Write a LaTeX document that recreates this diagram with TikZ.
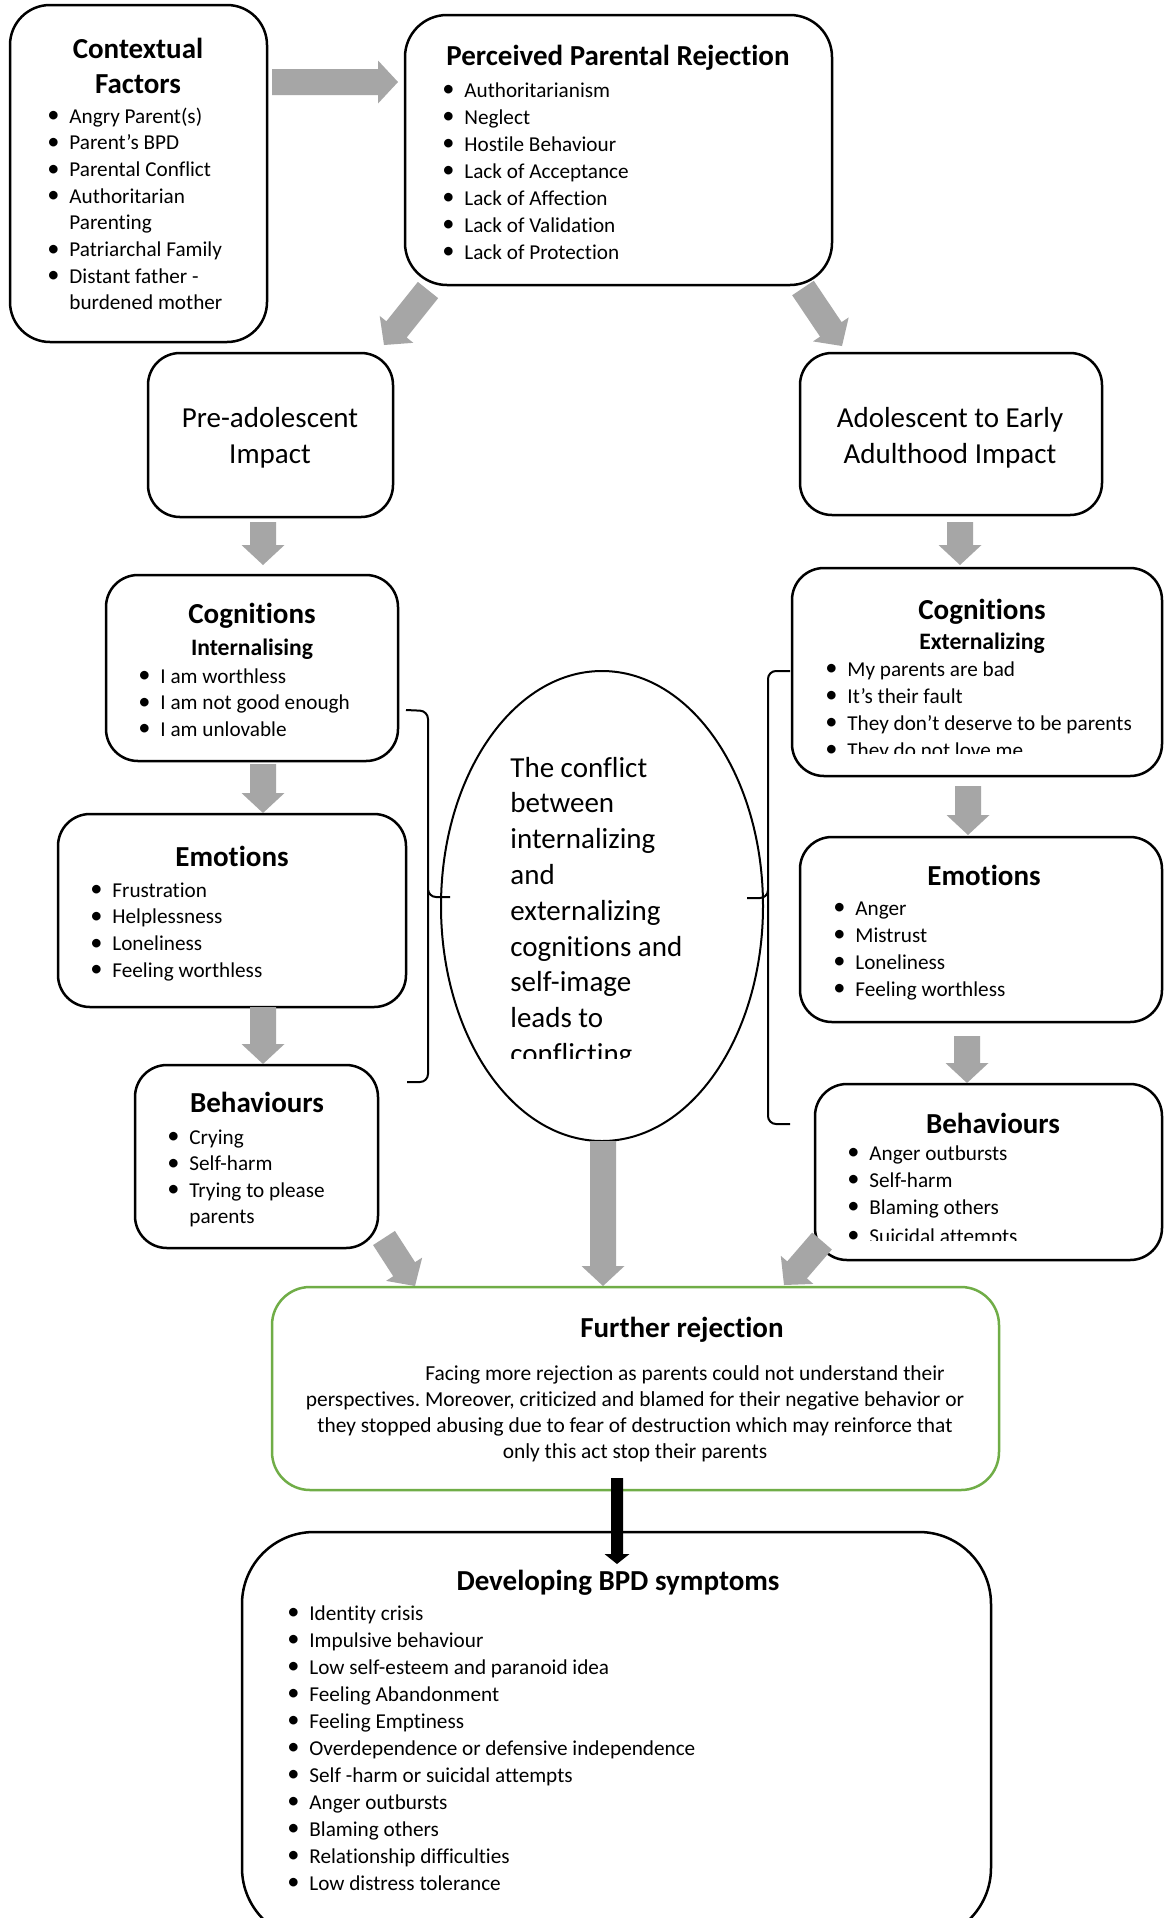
\documentclass[tikz,border=0pt]{standalone}
\usepackage{fontspec}
\setmainfont{Carlito}[Ligatures={NoCommon,NoRare,NoContextual}]
\usetikzlibrary{calc,shapes.geometric}
\definecolor{agray}{RGB}{166,166,166}
\definecolor{fgreen}{RGB}{112,173,71}
\newcommand\bul{\makebox[9.5pt][l]{\hspace{-1.5pt}\raisebox{0.01em}{\scalebox{1.15}{•}}}}
\newcommand\nob{\hspace*{9.5pt}}
% rounded box: [style]{name}{x1}{y1}{x2}{y2}{radius}
\newcommand\rbox[7][box]{%
  \node[#1, rounded corners=#7, minimum width={(#5-#3)*0.5pt}, minimum height={(#6-#4)*0.5pt}] (#2) at ({(#3+#5)/2},{(#4+#6)/2}) {};}
% block arrow: [colour]{start}{end}{shaft half}{head half}{head length}
\newcommand\barrow[6][agray]{%
  \coordinate (bh) at ($(#3)!#6!(#2)$);
  \fill[#1] ($(#2)!#4!90:(#3)$) -- ($(bh)!#4!90:(#3)$) -- ($(bh)!#5!90:(#3)$) -- (#3) -- ($(bh)!#5!-90:(#3)$) -- ($(bh)!#4!-90:(#3)$) -- ($(#2)!#4!-90:(#3)$) -- cycle;}
% list of lines: {prefix}{x}{y0}{dy}{items}
\newcommand\mylist[5]{%
  \foreach \itxt [count=\i] in {#5} {\node[itm] (#1\i) at ({#2},{#3+(\i-1)*#4}) {\itxt};}}
\frenchspacing
\begin{document}
\begin{tikzpicture}[x=0.5pt,y=-0.5pt,
  box/.style={draw, line width=1.25pt, inner sep=0pt},
  gbox/.style={draw=fgreen, line width=1.25pt, inner sep=0pt},
  ttl/.style={font=\bfseries\fontsize{14.5}{17}\selectfont, anchor=base, inner sep=0pt},
  sub/.style={font=\bfseries\fontsize{11.8}{14}\selectfont, anchor=base, inner sep=0pt},
  itm/.style={font=\fontsize{10.6}{13}\selectfont, anchor=base west, inner sep=0pt},
  big/.style={font=\fontsize{14.5}{17}\selectfont, anchor=base, inner sep=0pt},
  bigl/.style={font=\fontsize{14.5}{17}\selectfont, anchor=base west, inner sep=0pt},
  body/.style={font=\fontsize{10.7}{13}\selectfont, anchor=base, inner sep=0pt},
  brc/.style={draw, line width=1pt, rounded corners=4pt}]
\useasboundingbox (0,0) rectangle (1164,1918);
\fill[white] (0,0) rectangle (1164,1918);
\clip (0,0) rectangle (1164,1918);

% boxes
\rbox{ctx}{10}{5}{267}{342}{20pt}
\rbox{ppr}{405}{15}{832}{285}{21pt}
\rbox{pre}{148}{353}{393}{517}{16pt}
\rbox{ado}{800}{353}{1102}{515}{16pt}
\rbox{cogL}{106}{575}{398}{761}{16pt}
\rbox{emoL}{58}{814}{406}{1007}{16pt}
\rbox{behL}{135}{1065}{378}{1248}{16pt}
\rbox{cogR}{792}{568}{1162}{776}{16pt}
\rbox{emoR}{800}{837}{1162}{1022}{16pt}
\rbox{behR}{815}{1084}{1162}{1260}{16pt}
\rbox[gbox]{fur}{272}{1287}{999}{1490}{19pt}
\rbox{dev}{242}{1532}{991}{1940}{36pt}
\node[draw, ellipse, line width=1pt, minimum width=161pt, minimum height=235pt, inner sep=0pt] (conf) at (602,906) {};

% braces
\draw[brc] (406,710) -- (428,711) -- (428,897) -- (450,897);
\draw[brc] (428,890) -- (428,1082) -- (407,1082);
\draw[brc] (790,671) -- (768,671) -- (768,898) -- (747,898);
\draw[brc] (768,890) -- (768,1124) -- (790,1124);

% texts
\node[ttl] (ctxT1) at (138,58) {Contextual};
\node[ttl] (ctxT2) at (138,93) {Factors};
\mylist{ctx}{50}{123}{26.7}{{\bul Angry Parent(s)},{\bul Parent’s BPD},{\bul Parental Conflict},{\bul Authoritarian},{\nob Parenting},{\bul Patriarchal Family},{\bul Distant father -},{\nob burdened mother}}

\node[ttl] (pprT) at (618,65) {Perceived Parental Rejection};
\mylist{ppr}{445}{97}{27}{{\bul Authoritarianism},{\bul Neglect},{\bul Hostile Behaviour},{\bul Lack of Acceptance},{\bul Lack of Affection},{\bul Lack of Validation},{\bul Lack of Protection}}

\node[big] (pre1) at (270,427) {Pre-adolescent};
\node[big] (pre2) at (270,463) {Impact};
\node[big] (ado1) at (950,427) {Adolescent to Early};
\node[big] (ado2) at (950,463) {Adulthood Impact};

\node[ttl] (cogLT) at (252,623) {Cognitions};
\node[sub] (cogLS) at (252,655) {Internalising};
\mylist{cogL}{141}{683}{26.5}{{\bul I am worthless},{\bul I am not good enough},{\bul I am unlovable}}

\node[ttl] (emoLT) at (232,866) {Emotions};
\mylist{emoL}{93}{897}{26.7}{{\bul Frustration},{\bul Helplessness},{\bul Loneliness},{\bul Feeling worthless}}

\node[ttl] (behLT) at (257,1112) {Behaviours};
\mylist{behL}{170}{1144}{26.5}{{\bul Crying},{\bul Self-harm},{\bul Trying to please},{\nob parents}}

\node[ttl] (cogRT) at (982,619) {Cognitions};
\node[sub] (cogRS) at (982,649) {Externalizing};
\mylist{cogR}{828}{676}{27}{{\bul My parents are bad},{\bul It’s their fault},{\bul They don’t deserve to be parents}}
\begin{scope}
\clip (800,700) rectangle (1160,753);
\node[itm] (cogR4) at (828,757) {\bul They do not love me};
\end{scope}

\node[ttl] (emoRT) at (984,885) {Emotions};
\mylist{emoR}{836}{915}{27}{{\bul Anger},{\bul Mistrust},{\bul Loneliness},{\bul Feeling worthless}}

\node[ttl] (behRT) at (993,1133) {Behaviours};
\mylist{behR}{850}{1160}{27}{{\bul Anger outbursts},{\bul Self-harm},{\bul Blaming others}}
\begin{scope}
\clip (820,1200) rectangle (1160,1240);
\node[itm] (behR4) at (850,1243) {\bul Suicidal attempts};
\end{scope}

\foreach \itxt [count=\i] in {The conflict,between,internalizing,and,externalizing,cognitions and,self-image,leads to}
  {\node[bigl] (cf\i) at ({510},{777+(\i-1)*35.8}) {\itxt};}
\begin{scope}
\clip (500,1030) rectangle (720,1058);
\node[bigl] (cf9) at (510,1063.4) {conflicting};
\end{scope}

\node[ttl] (furT) at (682,1337) {Further rejection};
\node[body, anchor=base west] (fur1) at (425,1380) {Facing more rejection as parents could not understand their};
\node[body] (fur2) at (635,1406) {perspectives. Moreover, criticized and blamed for their negative behavior or};
\node[body] (fur3) at (635,1432) {they stopped abusing due to fear of destruction which may reinforce that};
\node[body] (fur4) at (635,1458) {only this act stop their parents};

\node[ttl] (devT) at (618,1590) {Developing BPD symptoms};
\mylist{dev}{290}{1620}{27}{{\bul Identity crisis},{\bul Impulsive behaviour},{\bul Low self-esteem and paranoid idea},{\bul Feeling Abandonment},{\bul Feeling Emptiness},{\bul Overdependence or defensive independence},{\bul Self -harm or suicidal attempts},{\bul Anger outbursts},{\bul Blaming others},{\bul Relationship difficulties},{\bul Low distress tolerance}}

% arrows
\coordinate (a1s) at (272,82);   \coordinate (a1e) at (398,82);
\coordinate (a2s) at (428,290);  \coordinate (a2e) at (384,345);
\coordinate (a3s) at (803,288);  \coordinate (a3e) at (842,346);
\coordinate (a4s) at (263,522);  \coordinate (a4e) at (263,565);
\coordinate (a5s) at (263,764);  \coordinate (a5e) at (263,813);
\coordinate (a6s) at (263,1007); \coordinate (a6e) at (263,1064);
\coordinate (a7s) at (960,522);  \coordinate (a7e) at (960,565);
\coordinate (a8s) at (968,786);  \coordinate (a8e) at (968,835);
\coordinate (a9s) at (967,1036); \coordinate (a9e) at (967,1083);
\coordinate (a10s) at (384,1238); \coordinate (a10e) at (415,1286);
\coordinate (a11s) at (603,1141); \coordinate (a11e) at (603,1286);
\coordinate (a12s) at (822,1241); \coordinate (a12e) at (784,1285);
\coordinate (a13s) at (617,1478); \coordinate (a13e) at (617,1564);
\foreach \k in {1,...,12} {\barrow{a\k s}{a\k e}{6.5pt}{10.75pt}{10pt}}
\barrow[black]{a13s}{a13e}{3pt}{6.25pt}{5pt}
\end{tikzpicture}
\end{document}
